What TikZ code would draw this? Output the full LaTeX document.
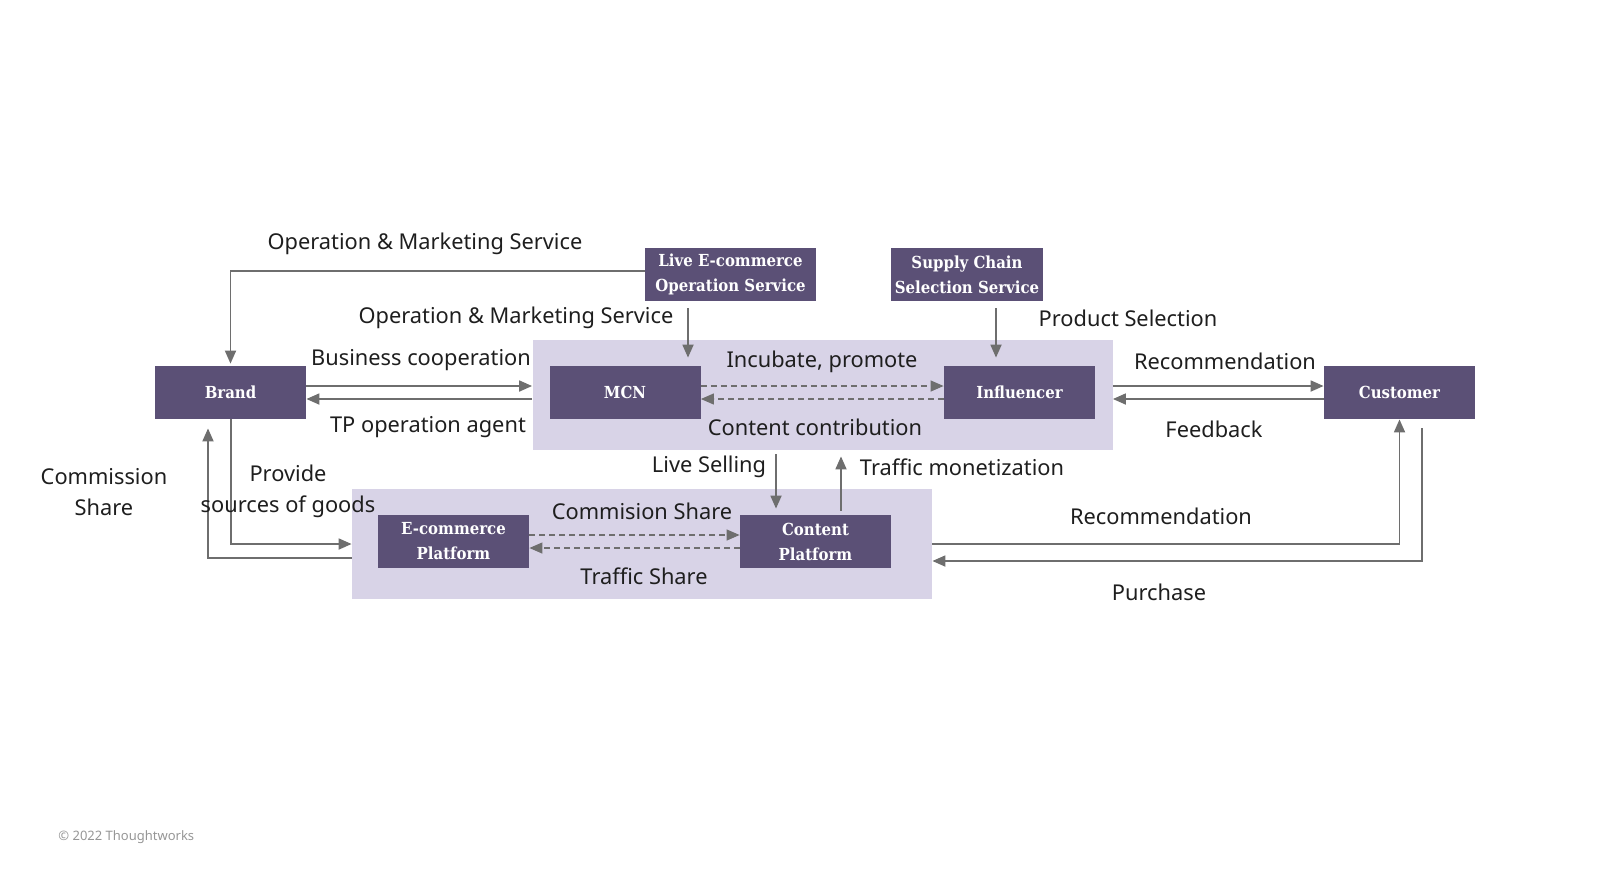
\documentclass[tikz,border=0pt]{standalone}
\usepackage{fontspec}
\setmainfont{Noto Sans}
\newfontfamily\boxfont{DejaVu Serif Condensed Bold}
\usetikzlibrary{arrows.meta}
\definecolor{boxpurple}{RGB}{91,80,118}
\definecolor{zonelilac}{RGB}{216,211,231}
\definecolor{linegray}{RGB}{110,110,110}
\definecolor{textdark}{RGB}{30,30,30}
\definecolor{notegray}{RGB}{150,150,150}

\begin{document}
\begin{tikzpicture}[x=0.5pt,y=-0.5pt,
	darkbox/.style={fill=boxpurple, text=white, font=\boxfont\fontsize{8.3}{12.5}\selectfont, minimum width=75.5pt, minimum height=26.5pt, inner sep=0pt, align=center},
	zone/.style={fill=zonelilac, minimum width=290pt, minimum height=55pt, inner sep=0pt},
	lbl/.style={text=textdark, font=\fontsize{10.9}{15.5}\selectfont, inner sep=0pt, align=center},
	flow/.style={draw=linegray, line width=0.9pt, -{Triangle[length=6.5pt,width=5.5pt]}},
	dflow/.style={flow, line width=0.6pt, dash pattern=on 3pt off 2pt}]
	\useasboundingbox (0,0) rectangle (1600,891);

	% zones
	\node[zone] (upzone) at (822.5,395) {};
	\node[zone] (lowzone) at (642,544) {};

	% boxes
	\node[darkbox] (brand) at (230.5,392.5) {Brand};
	\node[darkbox] (mcn) at (625,392.5) {MCN};
	\node[darkbox] (infl) at (1019.5,392.5) {Influencer};
	\node[darkbox] (cust) at (1399.5,392.5) {Customer};
	\node[darkbox, minimum width=85.5pt] (live) at (730.5,274.5) {Live E-commerce\\Operation Service};
	\node[darkbox, minimum width=76pt] (supply) at (967,274.5) {Supply Chain\\Selection Service};
	\node[darkbox] (ecom) at (453.5,541.5) {E-commerce\\Platform};
	\node[darkbox] (cplat) at (815.5,541.5) {Content\\Platform};

	% connectors
	\draw[flow, shorten >=1pt] (live.west |- 0,271) -| (brand.north);
	\draw[flow, shorten <=3.5pt, shorten >=4pt] (live.south -| 688,0) -- (mcn.north -| 688,0);
	\draw[flow, shorten <=3.5pt, shorten >=4pt] (supply.south -| 996,0) -- (infl.north -| 996,0);
	\draw[flow] (brand.east |- 0,386) -- (upzone.west |- 0,386);
	\draw[flow] (upzone.west |- 0,399) -- (brand.east |- 0,399);
	\draw[dflow] (mcn.east |- 0,386) -- (infl.west |- 0,386);
	\draw[dflow] (infl.west |- 0,399) -- (mcn.east |- 0,399);
	\draw[flow] (upzone.east |- 0,386) -- (cust.west |- 0,386);
	\draw[flow] (cust.west |- 0,399) -- (upzone.east |- 0,399);
	\draw[flow, shorten <=2pt, shorten >=3pt] (upzone.south -| 776,0) -- (cplat.north -| 776,0);
	\draw[flow, shorten <=2pt, shorten >=3pt] (cplat.north -| 841,0) -- (upzone.south -| 841,0);
	\draw[flow] (brand.south -| 231,0) |- (lowzone.west |- 0,544);
	\draw[flow, shorten >=4.5pt] (lowzone.west |- 0,558) -| (brand.south -| 208,0);
	\draw[dflow] (ecom.east |- 0,535) -- (cplat.west |- 0,535);
	\draw[dflow] (cplat.west |- 0,548) -- (ecom.east |- 0,548);
	\draw[flow] (lowzone.east |- 0,544) -| (cust.south);
	\draw[flow, shorten <=4.5pt] (cust.south -| 1422,0) |- (lowzone.east |- 0,561);

	% labels
	\node[lbl] (oms1) at (425,244) {Operation \& Marketing Service};
	\node[lbl] (oms2) at (516,318) {Operation \& Marketing Service};
	\node[lbl] (bizcoop) at (421,360) {Business cooperation};
	\node[lbl] (tpagent) at (428,427) {TP operation agent};
	\node[lbl] (incub) at (822,362) {Incubate, promote};
	\node[lbl] (contrib) at (815,427) {Content contribution};
	\node[lbl] (prodsel) at (1128,318) {Product Selection};
	\node[lbl] (recom1) at (1225,361) {Recommendation};
	\node[lbl] (feedb) at (1214,429) {Feedback};
	\node[lbl] (commis1) at (104,492) {Commission\\Share};
	\node[lbl] (provide) at (288,491) {Provide\\sources of goods};
	\node[lbl] (livesell) at (709,467) {Live Selling};
	\node[lbl] (trafmon) at (962,467) {Traffic monetization};
	\node[lbl] (commis2) at (642,511) {Commision Share};
	\node[lbl] (trafshare) at (644,576) {Traffic Share};
	\node[lbl] (recom2) at (1161,516) {Recommendation};
	\node[lbl] (purch) at (1159,592) {Purchase};
	\node[anchor=west, inner sep=0pt, text=notegray, font=\fontsize{6.5}{8}\selectfont] (copyr) at (58,837) {© 2022 Thoughtworks};
\end{tikzpicture}
\end{document}
